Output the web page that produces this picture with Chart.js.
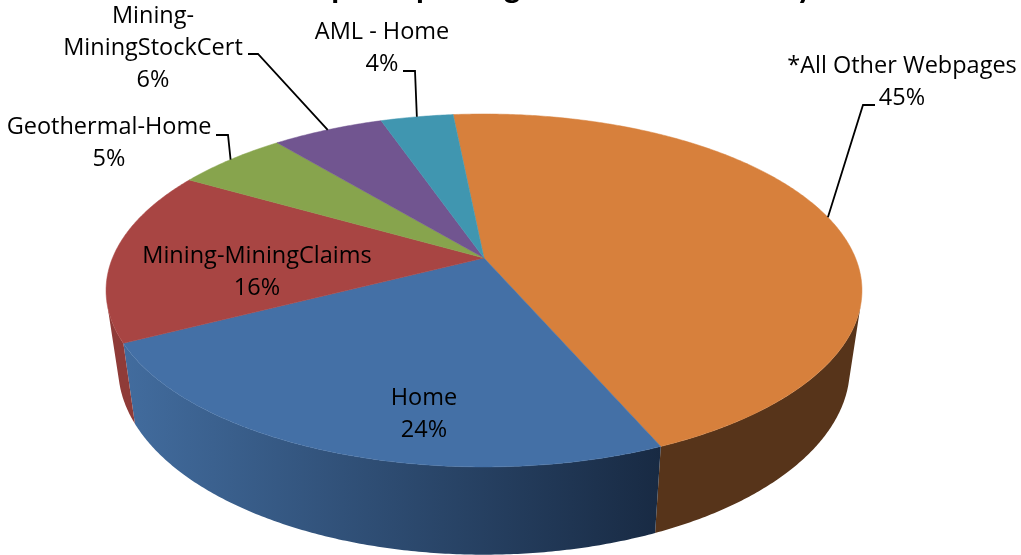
<!DOCTYPE html>
<html>
<head>
<meta charset="utf-8">
<script src="https://cdn.jsdelivr.net/npm/chart.js@4"></script>
<style>html,body{margin:0;padding:0;background:#fff;overflow:hidden}canvas{display:block}</style>
</head>
<body>
<canvas id="c" width="1021" height="555"></canvas>
<script>
const categories = ["*All Other Webpages", "Home", "Mining-MiningClaims", "Geothermal-Home", "Mining-MiningStockCert", "AML - Home"];
const shares = [45.1, 23.9, 15.9, 5.7, 5.7, 3.7];
const percentLabels = ["45%", "24%", "16%", "5%", "6%", "4%"];
const topColors = ["#D7803C", "#4470A6", "#A84543", "#87A44D", "#715590", "#4096B0"];
const wallStart = ["#57341A", "#426C9E", "#8F3B38", "#70883F", "#5E4778", "#357D92"];
const wallEnd = ["#57341A", "#182A43", "#8F3B38", "#70883F", "#5E4778", "#357D92"];
const chartTitle = "Sample Top 5 Pages Browsed Monthly";

const labelLayout = [
  {lines:["*All Other Webpages"], x:902, y:73, leader:[[875,105],[863,105]]},
  {lines:["Home"], x:424, y:405},
  {lines:["Mining-MiningClaims"], x:257, y:263},
  {lines:["Geothermal-Home"], x:109, y:134, leader:[[216,135],[228,135]]},
  {lines:["Mining-","MiningStockCert"], x:153, y:23, leader:[[248,54],[258,54]]},
  {lines:["AML - Home"], x:382, y:39, leader:[[403,71],[415,71]]}
];

const P = 0.184;
const topFace = {cx:484, cy:258, A:371.5, B:170.5};
const botFace = {cx:484, cy:333.5, A:359.6, B:180.5};
function project(face, ang){
  const u = Math.cos(ang), v = Math.sin(ang), w = 1 - P*v;
  return [face.cx + face.A*u/w, face.cy + face.B*v/w];
}
const FRONT_MIN = 15*Math.PI/180, FRONT_MAX = 165*Math.PI/180;
const STEP = Math.PI/360;
function samples(a0,a1){
  const out=[]; const n=Math.max(2,Math.ceil((a1-a0)/STEP));
  for(let i=0;i<=n;i++) out.push(a0+(a1-a0)*i/n);
  return out;
}
const pie3d = {
  id:'pie3d',
  beforeDatasetDraw(chart,args){
    const ctx=chart.ctx, arcs=chart.getDatasetMeta(args.index).data;
    arcs.forEach((arc,i)=>{
      const a0=Math.max(arc.startAngle,FRONT_MIN), a1=Math.min(arc.endAngle,FRONT_MAX);
      if(a1<=a0) return;
      const s=samples(a0,a1);
      const pa=project(topFace,a0), pb=project(topFace,a1);
      const g=ctx.createLinearGradient(Math.min(pa[0],pb[0]),0,Math.max(pa[0],pb[0]),0);
      g.addColorStop(0,wallStart[i]); g.addColorStop(1,wallEnd[i]);
      ctx.beginPath();
      s.forEach((a,k)=>{const p=project(topFace,a); k?ctx.lineTo(p[0],p[1]):ctx.moveTo(p[0],p[1]);});
      s.slice().reverse().forEach(a=>{const p=project(botFace,a); ctx.lineTo(p[0],p[1]);});
      ctx.closePath();
      ctx.fillStyle=g; ctx.fill();
    });
    arcs.forEach((arc,i)=>{
      ctx.beginPath();
      ctx.moveTo(topFace.cx,topFace.cy);
      samples(arc.startAngle,arc.endAngle).forEach(a=>{const p=project(topFace,a); ctx.lineTo(p[0],p[1]);});
      ctx.closePath();
      ctx.fillStyle=topColors[i]; ctx.fill();
      ctx.strokeStyle=topColors[i]; ctx.lineWidth=0.5; ctx.stroke();
    });
    return false;
  },
  afterDraw(chart){
    const ctx=chart.ctx, arcs=chart.getDatasetMeta(0).data;
    ctx.save();
    ctx.fillStyle='#000'; ctx.textAlign='center'; ctx.textBaseline='alphabetic';
    ctx.font='bold 32px Lato';
    ctx.fillText(chartTitle,542,-2);
    ctx.font='23.5px "Open Sans"';
    labelLayout.forEach((l,i)=>{
      const lines=[...l.lines, percentLabels[i]];
      lines.forEach((t,k)=>ctx.fillText(t,l.x,l.y+k*32));
      if(l.leader){
        const mid=(arcs[i].startAngle+arcs[i].endAngle)/2, end=project(topFace,mid);
        ctx.beginPath();
        ctx.moveTo(l.leader[0][0],l.leader[0][1]);
        ctx.lineTo(l.leader[1][0],l.leader[1][1]);
        ctx.lineTo(end[0],end[1]);
        ctx.strokeStyle='#000'; ctx.lineWidth=1.8; ctx.stroke();
      }
    });
    ctx.restore();
  }
};
new Chart(document.getElementById('c'),{
  type:'pie',
  data:{labels:categories,datasets:[{data:shares,backgroundColor:topColors,borderWidth:0}]},
  options:{responsive:false,animation:false,rotation:-5.65,
    plugins:{legend:{display:false},tooltip:{enabled:false},title:{display:false}}},
  plugins:[pie3d]
});
</script>
</body>
</html>
